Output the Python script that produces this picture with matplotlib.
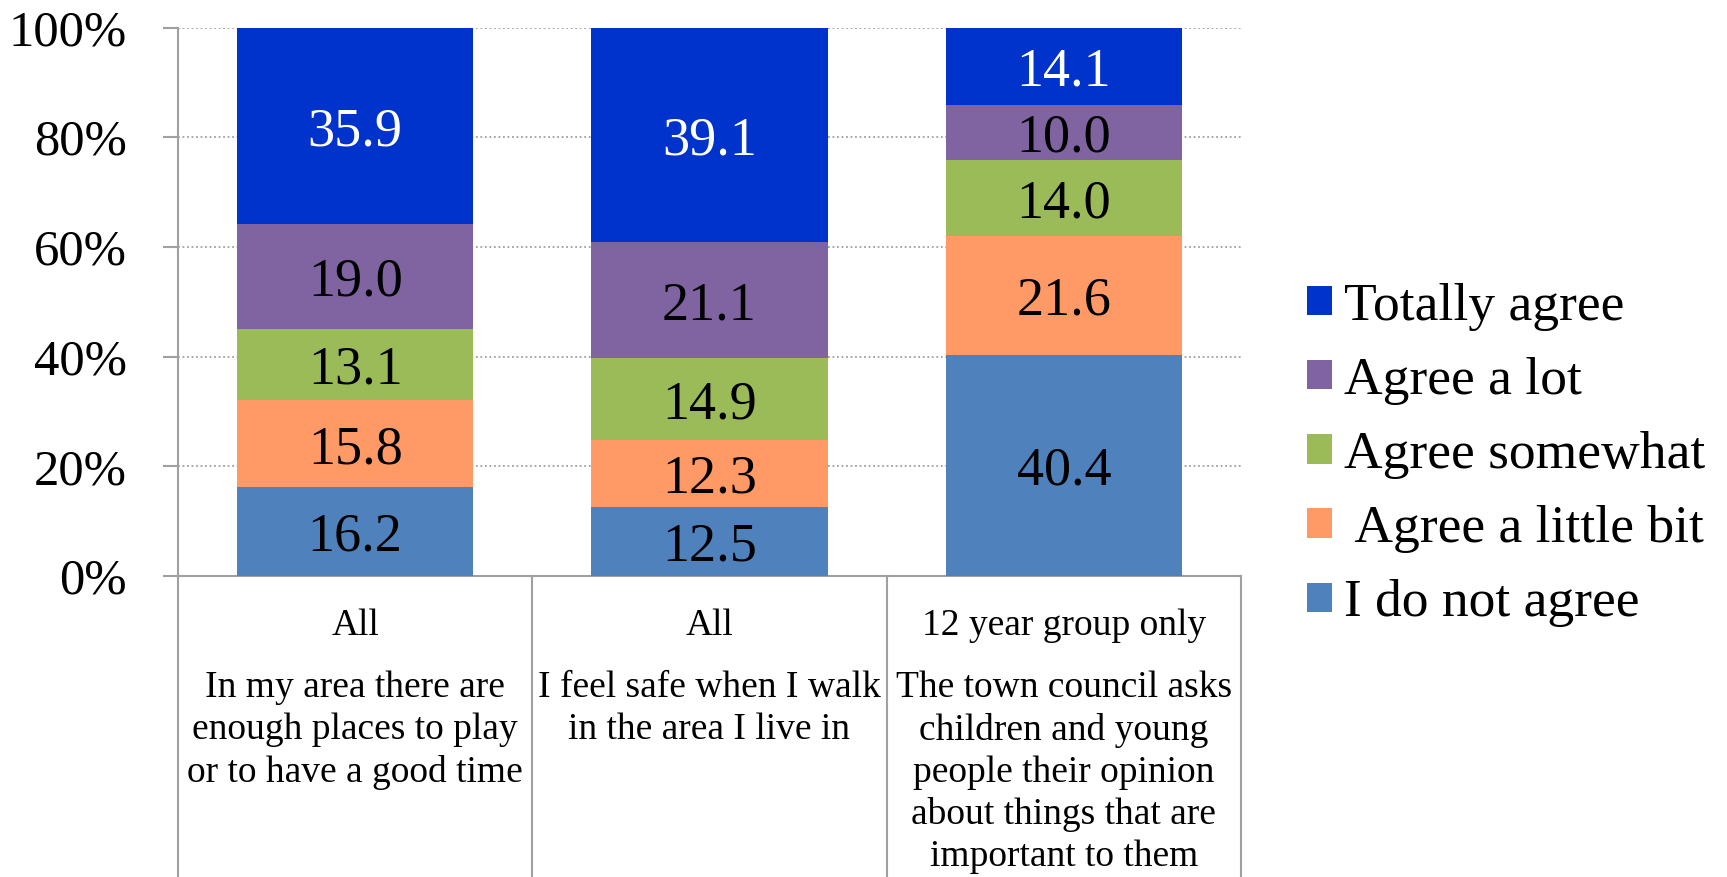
import matplotlib

matplotlib.use("Agg")
import matplotlib.pyplot as plt
import matplotlib.transforms as mtransforms
import numpy as np

plt.rcParams["font.family"] = ["Liberation Serif", "DejaVu Serif"]

GROUPS = ["All", "All", "12 year group only"]
QUESTIONS = [
    "In my area there are\nenough places to play\nor to have a good time",
    "I feel safe when I walk\nin the area I live in",
    "The town council asks\nchildren and young\npeople their opinion\nabout things that are\nimportant to them",
]
SERIES = ["I do not agree", " Agree a little bit", "Agree somewhat", "Agree a lot", "Totally agree"]
COLORS = ["#4F81BD", "#FF9966", "#9BBB59", "#8064A2", "#0033CC"]
TEXT_COLORS = ["black", "black", "black", "black", "white"]

do_not_agree = [16.2, 12.5, 40.4]
little_bit = [15.8, 12.3, 21.6]
somewhat = [13.1, 14.9, 14.0]
a_lot = [19.0, 21.1, 10.0]
totally = [35.9, 39.1, 14.1]

values = np.array([do_not_agree, little_bit, somewhat, a_lot, totally])
shares = values / values.sum(axis=0) * 100

fig = plt.figure(figsize=(17.27, 8.77), dpi=100)
ax = fig.add_axes([178 / 1727, 1 - 576 / 877, 1063 / 1727, 548.5 / 877])

x = np.arange(len(GROUPS))
bottom = np.zeros(len(GROUPS))
for i, name in enumerate(SERIES):
    ax.bar(x, shares[i], bottom=bottom, width=0.667, color=COLORS[i], label=name, zorder=3)
    for j in range(len(GROUPS)):
        ax.text(x[j], bottom[j] + shares[i][j] / 2, f"{values[i][j]:.1f}",
                ha="center", va="center_baseline", fontsize=39, color=TEXT_COLORS[i], zorder=4)
    bottom += shares[i]

ax.set_xlim(-0.5, len(GROUPS) - 0.5)
ax.set_ylim(0, 100)
ax.set_yticks(np.arange(0, 101, 20))
ax.set_yticklabels([f"{v}%" for v in range(0, 101, 20)], fontsize=36.5)
ax.set_xticks([])
ax.tick_params(axis="y", direction="out", length=11, width=1.5, color="#A0A0A0", pad=26)

for side in ["top", "right"]:
    ax.spines[side].set_visible(False)
for side in ["left", "bottom"]:
    ax.spines[side].set_color("#A0A0A0")
    ax.spines[side].set_linewidth(1.5)

for v in range(20, 101, 20):
    ax.axhline(v, color="#A0A0A0", linewidth=1.3, linestyle=(0, (1, 1.5)), zorder=1)

# category boxes below the plot
trans = mtransforms.blended_transform_factory(ax.transData, ax.transAxes)
for b in np.arange(-0.5, len(GROUPS), 1.0):
    ax.plot([b, b], [0, -0.56], transform=trans, color="#A0A0A0", linewidth=1.5, clip_on=False)

for j in range(len(GROUPS)):
    ax.text(x[j], -0.090, GROUPS[j], transform=trans, ha="center", va="center", fontsize=27)
    ax.text(x[j], -0.173, QUESTIONS[j], transform=trans, ha="center", va="top",
            fontsize=27, linespacing=1.28)

handles, labels = ax.get_legend_handles_labels()
fig.legend(handles[::-1], labels[::-1], loc="center left",
           bbox_to_anchor=(1307 / 1727, 1 - 455 / 877), frameon=False,
           fontsize=38.5, handlelength=0.47, handleheight=0.47, handletextpad=0.22,
           labelspacing=0.49, borderpad=0, borderaxespad=0)

fig.savefig("out.png", dpi=100)
plt.close(fig)
